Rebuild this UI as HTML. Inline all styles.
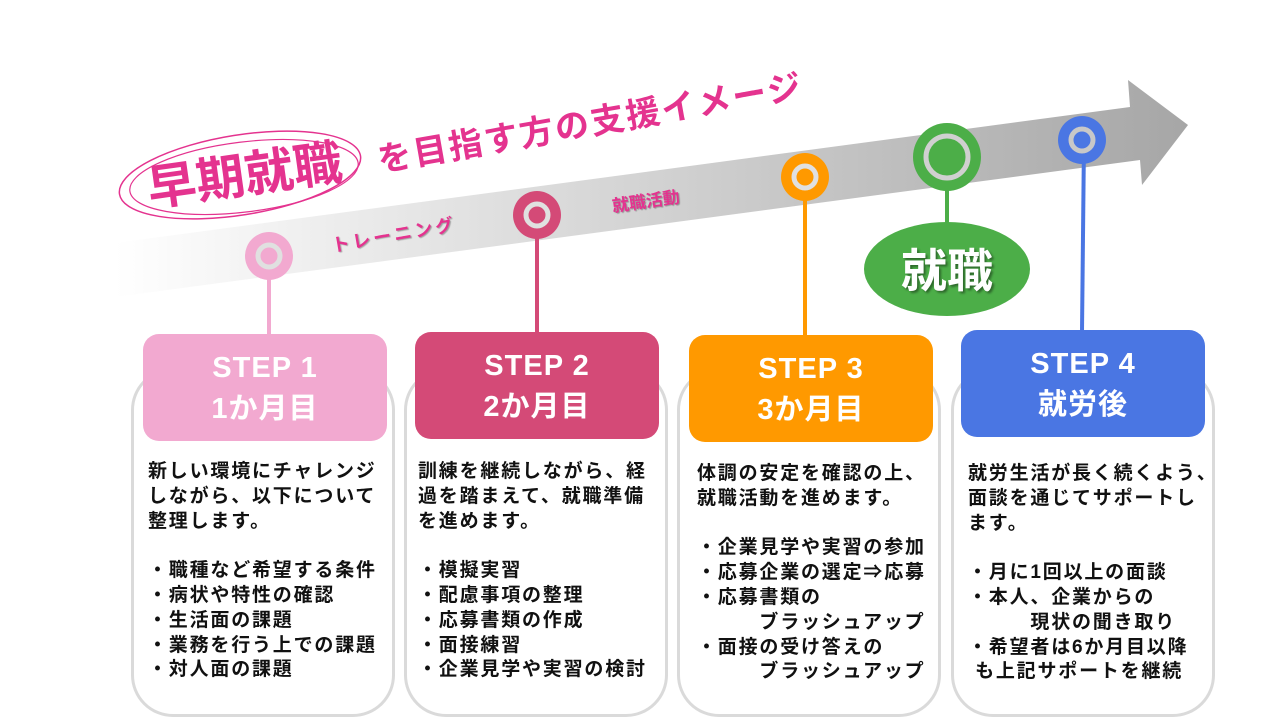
<!DOCTYPE html>
<html><head><meta charset="utf-8"><style>
body{margin:0;width:1263px;height:721px;background:#fff;position:relative;overflow:hidden;font-family:"Liberation Sans","Noto Sans CJK JP",sans-serif}
.card{position:absolute;top:368px;width:264px;height:349px;border:3px solid #dadada;border-radius:42px;box-sizing:border-box;background:#fff}
.hd{position:absolute;width:244px;height:107px;border-radius:16px;color:#fff;font-weight:bold;font-size:29px;text-align:center;line-height:41px;box-sizing:border-box;padding-top:14px;letter-spacing:1px}
.tx{position:absolute;white-space:pre;font-size:19px;line-height:24.8px;letter-spacing:1.8px;color:#111;font-weight:bold}
svg{position:absolute;left:0;top:0}
</style></head><body>
<svg width="1263" height="721">
<defs>
<linearGradient id="g" x1="115" y1="0" x2="1190" y2="0" gradientUnits="userSpaceOnUse">
<stop offset="0" stop-color="#fff"/><stop offset="0.3" stop-color="#e4e4e4"/><stop offset="1" stop-color="#a6a6a6"/></linearGradient>
</defs>
<polygon points="115,243 1130,107 1128,80 1188,125 1142,185 1140,160 115,297" fill="url(#g)"/>
<line x1="269" y1="256" x2="269" y2="336" stroke="#f2a9d0" stroke-width="4"/>
<line x1="537" y1="215" x2="537" y2="334" stroke="#d44a77" stroke-width="4"/>
<line x1="805" y1="177" x2="805" y2="337" stroke="#ff9900" stroke-width="4"/>
<line x1="947" y1="157" x2="947" y2="225" stroke="#4cae48" stroke-width="4"/>
<line x1="1084" y1="140" x2="1082" y2="332" stroke="#4a76e3" stroke-width="4"/>
<circle cx="269" cy="256" r="24" fill="#f2a9d0"/><circle cx="269" cy="256" r="11" fill="#f2a9d0" stroke="#e0e0e0" stroke-width="5"/>
<circle cx="537" cy="215" r="24" fill="#d44a77"/><circle cx="537" cy="215" r="11" fill="#d44a77" stroke="#e0e0e0" stroke-width="5"/>
<circle cx="805" cy="177" r="24" fill="#ff9900"/><circle cx="805" cy="177" r="11" fill="#ff9900" stroke="#e0e0e0" stroke-width="5"/>
<circle cx="947" cy="157" r="34" fill="#4cae48"/><circle cx="947" cy="157" r="21" fill="#4cae48" stroke="#d0d0d0" stroke-width="5"/>
<circle cx="1082" cy="140" r="24" fill="#4a76e3"/><circle cx="1082" cy="140" r="11" fill="#4a76e3" stroke="#c8c8c8" stroke-width="5"/>
<ellipse cx="947" cy="269" rx="83" ry="47" fill="#4cae48"/>
<text x="947" y="287" text-anchor="middle" font-size="46" font-weight="bold" fill="#fff" font-family="Liberation Sans,Noto Sans CJK JP,sans-serif" style="text-shadow:2px 2px 2px rgba(0,0,0,.4)">就職</text>
<ellipse cx="240" cy="175" rx="122" ry="40" fill="none" stroke="#e4338f" stroke-width="1.5" transform="rotate(-9 240 175)"/>
<ellipse cx="244" cy="177" rx="115" ry="35" fill="none" stroke="#e4338f" stroke-width="1.2" transform="rotate(-7 244 177)"/>
<text x="150" y="206" font-size="49" font-weight="bold" fill="#e4338f" transform="rotate(-8 150 206)" font-family="Liberation Sans,Noto Sans CJK JP,sans-serif">早期就職</text>
<text x="380" y="172" font-size="34" font-weight="bold" fill="#e4338f" transform="rotate(-10 380 172)" font-family="Liberation Sans,Noto Sans CJK JP,sans-serif" letter-spacing="2">を目指す方の支援イメージ</text>
<text x="333" y="252" font-size="18" font-weight="bold" fill="#e4338f" transform="rotate(-10 333 252)" font-family="Liberation Sans,Noto Sans CJK JP,sans-serif" letter-spacing="3" style="text-shadow:1px 1px 1px rgba(0,0,0,.3)">トレーニング</text>
<text x="613" y="212" font-size="17" font-weight="bold" fill="#e4338f" transform="rotate(-8 613 212)" font-family="Liberation Sans,Noto Sans CJK JP,sans-serif" style="text-shadow:1px 1px 1px rgba(0,0,0,.3)">就職活動</text>
</svg>

<div class="card" style="left:131px"></div>
<div class="card" style="left:404px"></div>
<div class="card" style="left:677px"></div>
<div class="card" style="left:951px"></div>

<div class="hd" style="left:143px;top:334px;background:#f2a9d0">STEP 1<br>1か月目</div>
<div class="hd" style="left:415px;top:332px;background:#d44a77">STEP 2<br>2か月目</div>
<div class="hd" style="left:689px;top:335px;background:#ff9900">STEP 3<br>3か月目</div>
<div class="hd" style="left:961px;top:330px;background:#4a76e3">STEP 4<br>就労後</div>

<div class="tx" style="left:148px;top:460px">新しい環境にチャレンジ
しながら、以下について
整理します。

・職種など希望する条件
・病状や特性の確認
・生活面の課題
・業務を行う上での課題
・対人面の課題</div>
<div class="tx" style="left:418px;top:460px">訓練を継続しながら、経
過を踏まえて、就職準備
を進めます。

・模擬実習
・配慮事項の整理
・応募書類の作成
・面接練習
・企業見学や実習の検討</div>
<div class="tx" style="left:697px;top:462px">体調の安定を確認の上、
就職活動を進めます。

・企業見学や実習の参加
・応募企業の選定⇒応募
・応募書類の
　　　ブラッシュアップ
・面接の受け答えの
　　　ブラッシュアップ</div>
<div class="tx" style="left:968px;top:462px">就労生活が長く続くよう、
面談を通じてサポートし
ます。

・月に1回以上の面談
・本人、企業からの
　　　現状の聞き取り
・希望者は6か月目以降
 も上記サポートを継続</div>
</body></html>
